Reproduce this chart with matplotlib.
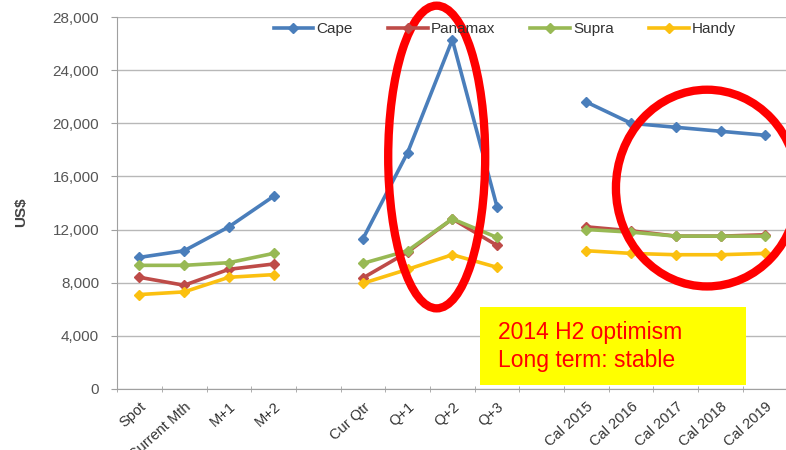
import numpy as np
import matplotlib.pyplot as plt
from matplotlib.patches import Ellipse, Rectangle

plt.rcParams['font.family'] = ['Liberation Sans', 'DejaVu Sans']

categories = ["Spot", "Current Mth", "M+1", "M+2", "",
              "Cur Qtr", "Q+1", "Q+2", "Q+3", "",
              "Cal 2015", "Cal 2016", "Cal 2017", "Cal 2018", "Cal 2019"]

nan = np.nan
cape = [9900, 10400, 12200, 14500, nan,
        11300, 17800, 26300, 13700, nan,
        21600, 20000, 19700, 19400, 19100]
panamax = [8400, 7800, 9000, 9400, nan,
           8350, 10300, 12800, 10800, nan,
           12200, 11900, 11500, 11500, 11600]
supra = [9300, 9300, 9500, 10200, nan,
         9450, 10400, 12800, 11400, nan,
         12000, 11800, 11500, 11500, 11500]
handy = [7100, 7300, 8400, 8600, nan,
         7950, 9000, 10100, 9150, nan,
         10400, 10200, 10100, 10100, 10200]

series = [("Cape", cape, "#4a7ebb"),
          ("Panamax", panamax, "#be4b48"),
          ("Supra", supra, "#98b954"),
          ("Handy", handy, "#fbc010")]

fig = plt.figure(figsize=(7.86, 4.5), dpi=100)
ax = fig.add_axes([0.149, 0.136, 0.853, 0.826])

x = np.arange(len(categories))
for name, vals, col in series:
    ax.plot(x, vals, color=col, lw=2.6, marker="D", ms=5.5, label=name, zorder=3)

ax.set_ylim(0, 28000)
ax.set_yticks(np.arange(0, 28001, 4000))
ax.set_yticklabels(["{:,}".format(v) for v in range(0, 28001, 4000)])
ax.set_xlim(-0.5, len(categories) - 0.5)
ax.set_xticks(x)
ax.set_xticklabels(categories, rotation=42, ha="right", rotation_mode="anchor")
ax.set_xticks(np.arange(-0.5, len(categories), 1), minor=True)
ax.tick_params(axis="x", which="major", length=0, pad=8, labelsize=10.5, labelcolor="#333333")
ax.tick_params(axis="x", which="minor", length=4, color="#a0a0a0", direction="inout")
ax.tick_params(axis="y", length=4, color="#a0a0a0", pad=9, labelsize=11, labelcolor="#555555")

ax.grid(axis="y", color="#b8b8b8", lw=1)
ax.set_axisbelow(True)
for s in ["top", "right"]:
    ax.spines[s].set_visible(False)
for s in ["left", "bottom"]:
    ax.spines[s].set_color("#a0a0a0")

fig.text(0.027, 0.529, "US$", rotation=90, fontsize=11, fontweight="bold",
         color="#444444", ha="center", va="center")

ax.legend(loc="center", bbox_to_anchor=(0.578, 0.968), ncol=4, frameon=False,
          handlelength=2.6, columnspacing=2.3, handletextpad=0.2, fontsize=11,
          labelcolor="#333333")

# highlight rings
ax.add_patch(Ellipse((6.65, 17460), 2.17, 22800, fill=False, ec="#ff0000",
                     lw=6, zorder=5, clip_on=False))
ax.add_patch(Ellipse((12.7, 15120), 4.08, 14820, fill=False, ec="#ff0000",
                     lw=6, zorder=5, clip_on=False))

# note box
fig.patches.append(Rectangle((0.611, 0.144), 0.338, 0.173, transform=fig.transFigure,
                             facecolor="#ffff00", edgecolor="none", zorder=4))
fig.text(0.634, 0.262, "2014 H2 optimism", color="#ff0000", fontsize=16.5,
         va="center", ha="left", zorder=6)
fig.text(0.634, 0.200, "Long term: stable", color="#ff0000", fontsize=16.5,
         va="center", ha="left", zorder=6)

fig.savefig("out.png", dpi=100)
